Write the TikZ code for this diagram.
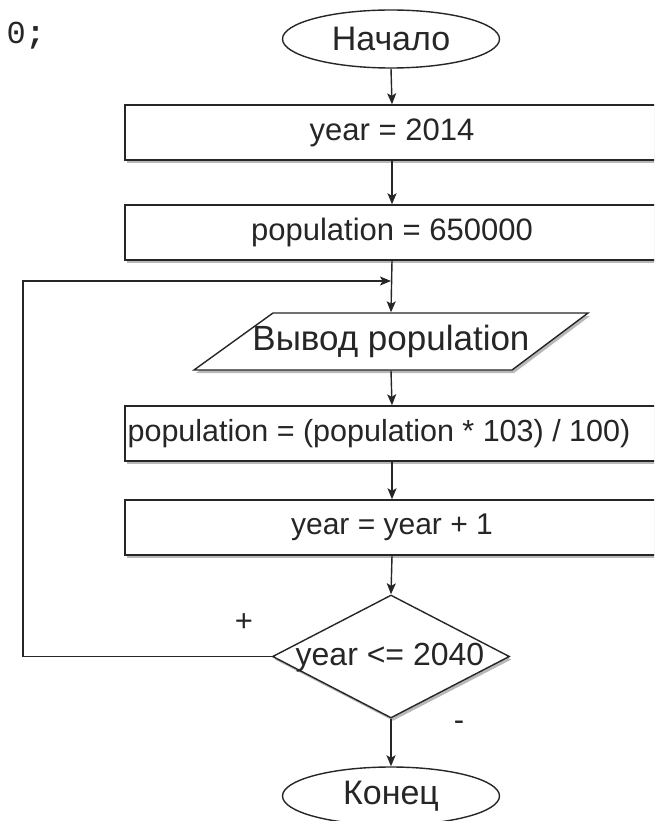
\documentclass[tikz,border=0pt]{standalone}
\usepackage{fontspec}
\setmainfont{Liberation Sans}
\newfontfamily\codefont{Liberation Mono}
\usetikzlibrary{shapes.geometric,arrows.meta,shadows}
\begin{document}
\begin{tikzpicture}[x=1pt,y=-1pt,
  line width=1.4pt,
  every node/.style={font=\fontsize{31}{35}\selectfont, text=black!85},
  shad/.style={drop shadow={shadow xshift=2pt,shadow yshift=-3pt,fill=black!28,opacity=1}},
  term/.style={draw=black!85, ellipse, minimum width=217pt, minimum height=58pt, inner sep=0pt, fill=white, font=\fontsize{34}{38}\selectfont},
  procbox/.style={draw=black!85, rectangle, minimum width=534pt, minimum height=55pt, inner sep=0pt, fill=white, shad},
  decis/.style={draw=black!85, diamond, minimum width=237pt, minimum height=123pt, aspect=1.93, inner sep=0pt, fill=white, shad},
  arr/.style={draw=black!85, -{Stealth[length=11pt,width=9pt,inset=2.5pt]}}
]
\useasboundingbox (0,0) rectangle (654,821);
\clip (0,0) rectangle (654,821);

\node[anchor=west, font=\codefont\fontsize{32}{36}\selectfont, inner sep=0pt] (code) at (6,36) {0\textbf{;}};

\node[term] (start) at (391,39) {Начало};
\node[procbox] (b1) at (392,132.5) {year = 2014};
\node[procbox] (b2) at (392,232.5) {population = 650000};

% parallelogram
\draw[draw=black!85, fill=white, shad] (194,370) -- (512,370) -- (588,313) -- (273,313) -- cycle;
\node[minimum width=318pt, minimum height=57pt, inner sep=0pt, font=\fontsize{35}{39}\selectfont] (para) at (391,341.5) {Вывод population};

\node[procbox] (b3) at (392,433.5) {};
\node[inner sep=0pt, font=\fontsize{30.5}{34}\selectfont] (b3t) at (379,433.5) {population = (population * 103) / 100)};
\node[procbox, font=\fontsize{30}{34}\selectfont] (b4) at (392,527.5) {year = year + 1};

\node[decis] (dia) at (391,656.5) {};
\node[inner sep=0pt, font=\fontsize{32}{36}\selectfont] (diat) at (390,658) {year <= 2040};

\node[term] (stop) at (391,796) {Конец};

\coordinate (j) at (391,281);
\coordinate (lx) at (23,0);

\draw[arr] (start.south) -- (b1.north);
\draw[arr] (b1.south) -- (b2.north);
\draw[arr] (b2.south) -- (para.north);
\draw[arr] (dia.west) -- (dia.west -| lx) |- (j);
\draw[arr] (para.south) -- (b3.north);
\draw[arr] (b3.south) -- (b4.north);
\draw[arr] (b4.south) -- (dia.north);
\draw[arr] (dia.south) -- (stop.north);

\node (plus) at (244,623) {+};
\node (minus) at (459,726) {-};
\end{tikzpicture}
\end{document}
